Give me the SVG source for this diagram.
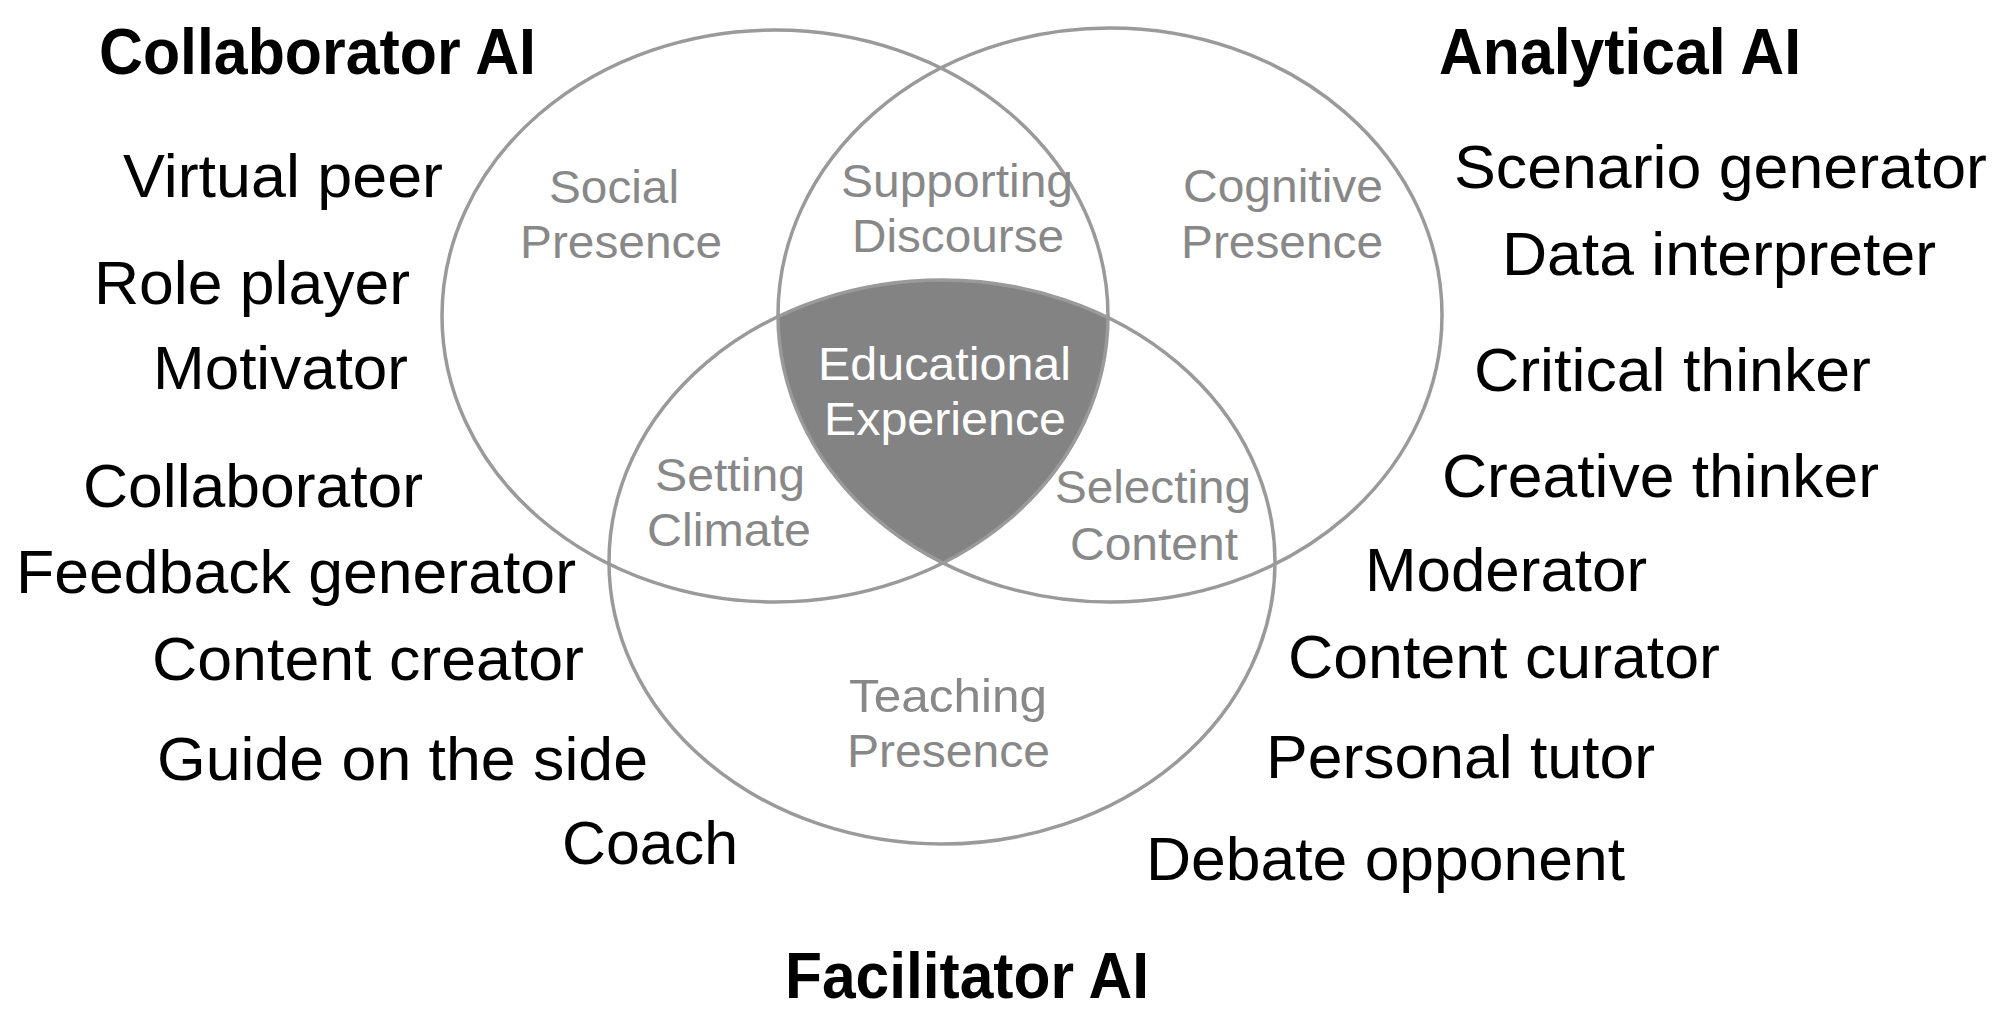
<svg xmlns="http://www.w3.org/2000/svg" width="2000" height="1033" viewBox="0 0 2000 1033">
<style>
.ring{fill:none;stroke:#9a9a9a;stroke-width:3.5}
.role{font-family:"Liberation Sans",Arial,sans-serif;font-size:62px;fill:#000}
.title{font-family:"Liberation Sans",Arial,sans-serif;font-size:64px;font-weight:bold;fill:#000}
.zone{font-family:"Liberation Sans",Arial,sans-serif;font-size:47px;fill:#888}
.core{font-family:"Liberation Sans",Arial,sans-serif;font-size:47px;fill:#fff}
</style>
<defs>
<clipPath id="clipL"><ellipse cx="775" cy="316" rx="333" ry="286"/></clipPath>
<clipPath id="clipR"><ellipse cx="1110" cy="315" rx="332" ry="287"/></clipPath>
</defs>
<rect x="0" y="0" width="2000" height="1033" fill="#fff"/>
<g id="educational-experience">
<g clip-path="url(#clipR)"><g clip-path="url(#clipL)"><ellipse cx="942" cy="562" rx="333" ry="282" fill="#838383"/></g></g>
<text class="core" x="818" y="380" textLength="253" lengthAdjust="spacingAndGlyphs">Educational</text>
<text class="core" x="824" y="435" textLength="242" lengthAdjust="spacingAndGlyphs">Experience</text>
</g>
<g id="social-presence">
<ellipse class="ring" cx="775" cy="316" rx="333" ry="286"/>
<text class="zone" x="549" y="203" textLength="130" lengthAdjust="spacingAndGlyphs">Social</text>
<text class="zone" x="520" y="258" textLength="202" lengthAdjust="spacingAndGlyphs">Presence</text>
</g>
<g id="cognitive-presence">
<ellipse class="ring" cx="1110" cy="315" rx="332" ry="287"/>
<text class="zone" x="1183" y="202" textLength="200" lengthAdjust="spacingAndGlyphs">Cognitive</text>
<text class="zone" x="1181" y="258" textLength="202" lengthAdjust="spacingAndGlyphs">Presence</text>
</g>
<g id="teaching-presence">
<ellipse class="ring" cx="942" cy="562" rx="333" ry="282"/>
<text class="zone" x="849" y="712" textLength="198" lengthAdjust="spacingAndGlyphs">Teaching</text>
<text class="zone" x="847" y="767" textLength="203" lengthAdjust="spacingAndGlyphs">Presence</text>
</g>
<g id="supporting-discourse">
<text class="zone" x="841" y="197" textLength="232" lengthAdjust="spacingAndGlyphs">Supporting</text>
<text class="zone" x="852" y="252" textLength="212" lengthAdjust="spacingAndGlyphs">Discourse</text>
</g>
<g id="setting-climate">
<text class="zone" x="655" y="491" textLength="150" lengthAdjust="spacingAndGlyphs">Setting</text>
<text class="zone" x="647" y="546" textLength="164" lengthAdjust="spacingAndGlyphs">Climate</text>
</g>
<g id="selecting-content">
<text class="zone" x="1055" y="503" textLength="196" lengthAdjust="spacingAndGlyphs">Selecting</text>
<text class="zone" x="1070" y="560" textLength="168" lengthAdjust="spacingAndGlyphs">Content</text>
</g>
<g id="collaborator-ai">
<text class="title" x="99" y="74" textLength="437" lengthAdjust="spacingAndGlyphs">Collaborator AI</text>
<text class="role" x="123" y="197" textLength="320" lengthAdjust="spacingAndGlyphs">Virtual peer</text>
<text class="role" x="94" y="304" textLength="316" lengthAdjust="spacingAndGlyphs">Role player</text>
<text class="role" x="153" y="389" textLength="255" lengthAdjust="spacingAndGlyphs">Motivator</text>
<text class="role" x="83" y="507" textLength="340" lengthAdjust="spacingAndGlyphs">Collaborator</text>
</g>
<g id="facilitator-ai">
<text class="role" x="16" y="593" textLength="560" lengthAdjust="spacingAndGlyphs">Feedback generator</text>
<text class="role" x="152" y="680" textLength="432" lengthAdjust="spacingAndGlyphs">Content creator</text>
<text class="role" x="157" y="780" textLength="491" lengthAdjust="spacingAndGlyphs">Guide on the side</text>
<text class="role" x="562" y="864" textLength="176" lengthAdjust="spacingAndGlyphs">Coach</text>
<text class="title" x="785" y="998" textLength="364" lengthAdjust="spacingAndGlyphs">Facilitator AI</text>
<text class="role" x="1365" y="591" textLength="282" lengthAdjust="spacingAndGlyphs">Moderator</text>
<text class="role" x="1288" y="678" textLength="432" lengthAdjust="spacingAndGlyphs">Content curator</text>
<text class="role" x="1266" y="778" textLength="389" lengthAdjust="spacingAndGlyphs">Personal tutor</text>
<text class="role" x="1146" y="880" textLength="479" lengthAdjust="spacingAndGlyphs">Debate opponent</text>
</g>
<g id="analytical-ai">
<text class="title" x="1439" y="74" textLength="362" lengthAdjust="spacingAndGlyphs">Analytical AI</text>
<text class="role" x="1454" y="188" textLength="533" lengthAdjust="spacingAndGlyphs">Scenario generator</text>
<text class="role" x="1502" y="275" textLength="434" lengthAdjust="spacingAndGlyphs">Data interpreter</text>
<text class="role" x="1474" y="391" textLength="397" lengthAdjust="spacingAndGlyphs">Critical thinker</text>
<text class="role" x="1442" y="497" textLength="437" lengthAdjust="spacingAndGlyphs">Creative thinker</text>
</g>
</svg>
